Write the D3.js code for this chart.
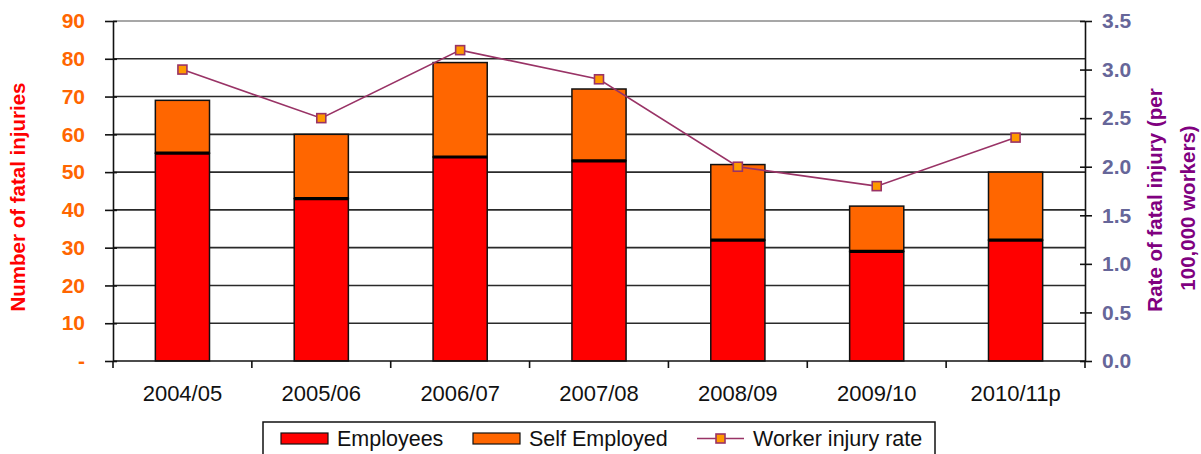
<!DOCTYPE html>
<html>
<head>
<meta charset="utf-8">
<script src="https://cdn.jsdelivr.net/npm/d3@7"></script>
<style>
  html, body { margin: 0; padding: 0; background: #fff; }
  svg { display: block; font-family: "Liberation Sans", Arial, sans-serif; }
</style>
</head>
<body>
<svg id="chart" width="1201" height="454"></svg>
<script>
// Fatal injuries by year, split by employment status, with the worker injury rate
const years = ["2004/05", "2005/06", "2006/07", "2007/08", "2008/09", "2009/10", "2010/11p"];
const employees = [55, 43, 54, 53, 32, 29, 32];
const selfEmployed = [14, 17, 25, 19, 20, 12, 18];
const injuryRate = [3.0, 2.5, 3.2, 2.9, 2.0, 1.8, 2.3];
const countTicks = [0, 10, 20, 30, 40, 50, 60, 70, 80, 90];
const rateTicks = [0, 0.5, 1.0, 1.5, 2.0, 2.5, 3.0, 3.5];

const svg = d3.select("#chart");
const plotLeft = 113, plotRight = 1085, plotTop = 21, plotBottom = 361;

const x = d3.scaleBand().domain(years).range([plotLeft, plotRight]).padding(0);
const barW = x.bandwidth() * 0.39;
const yCount = d3.scaleLinear().domain([0, 90]).range([plotBottom, plotTop]);
const yRate = d3.scaleLinear().domain([0, 3.5]).range([plotBottom, plotTop]);

// Horizontal gridlines
svg.append("g").selectAll("line").data(countTicks.filter(d => d > 0)).join("line")
  .attr("x1", plotLeft).attr("x2", plotRight)
  .attr("y1", d => yCount(d)).attr("y2", d => yCount(d))
  .attr("stroke", d => d === 90 ? "#8a8a8a" : "#2a2a2a")
  .attr("stroke-width", 1.6);

// Stacked bars
const bars = svg.append("g");
years.forEach((yr, i) => {
  const cx = x(yr) + x.bandwidth() / 2;
  const x0 = cx - barW / 2;
  bars.append("rect")
    .attr("x", x0).attr("width", barW)
    .attr("y", yCount(employees[i])).attr("height", yCount(0) - yCount(employees[i]))
    .attr("fill", "#FF0000").attr("stroke", "#111").attr("stroke-width", 1.5);
  const tot = employees[i] + selfEmployed[i];
  bars.append("rect")
    .attr("x", x0).attr("width", barW)
    .attr("y", yCount(tot)).attr("height", yCount(employees[i]) - yCount(tot))
    .attr("fill", "#FF6600").attr("stroke", "#111").attr("stroke-width", 1.5);
  bars.append("line")
    .attr("x1", x0).attr("x2", x0 + barW)
    .attr("y1", yCount(employees[i])).attr("y2", yCount(employees[i]))
    .attr("stroke", "#000").attr("stroke-width", 3.2);
});

// Left axis
const yAxisL = d3.axisLeft(yCount).tickValues(countTicks)
  .tickSizeOuter(0).tickSizeInner(8).tickPadding(12)
  .tickFormat(d => d === 0 ? "-" : d);
const gL = svg.append("g").attr("transform", `translate(${plotLeft},0)`).call(yAxisL);
gL.select(".domain").attr("stroke", "#111").attr("stroke-width", 1.6);
gL.selectAll(".tick line").attr("x2", -8).attr("x1", 4).attr("stroke", "#111").attr("stroke-width", 1.6);
gL.selectAll(".tick text").attr("fill", "#FF6600").attr("font-size", 21).attr("font-weight", "bold")
  .attr("font-family", "Liberation Sans, Arial, sans-serif").attr("x", -28);

// Right axis
const yAxisR = d3.axisRight(yRate).tickValues(rateTicks)
  .tickSizeOuter(0).tickSizeInner(7).tickPadding(10)
  .tickFormat(d3.format(".1f"));
const gR = svg.append("g").attr("transform", `translate(${plotRight},0)`).call(yAxisR);
gR.select(".domain").attr("stroke", "#111").attr("stroke-width", 1.6);
gR.selectAll(".tick line").attr("x1", -5).attr("x2", 7).attr("stroke", "#111").attr("stroke-width", 1.6);
gR.selectAll(".tick text").attr("fill", "#666699").attr("font-size", 21).attr("font-weight", "bold")
  .attr("font-family", "Liberation Sans, Arial, sans-serif").attr("x", 17);

// Bottom axis: ticks at category boundaries
const gB = svg.append("g");
gB.append("line").attr("x1", plotLeft).attr("x2", plotRight).attr("y1", plotBottom).attr("y2", plotBottom)
  .attr("stroke", "#111").attr("stroke-width", 1.6);
const bounds = years.map(d => x(d)).concat([x(years[years.length - 1]) + x.bandwidth()]);
gB.selectAll("line.tk").data(bounds).join("line").attr("class", "tk")
  .attr("x1", d => d).attr("x2", d => d).attr("y1", plotBottom).attr("y2", plotBottom + 7)
  .attr("stroke", "#111").attr("stroke-width", 1.6);
gB.selectAll("text").data(years).join("text")
  .attr("x", d => x(d) + x.bandwidth() / 2).attr("y", 401)
  .attr("text-anchor", "middle").attr("font-size", 22).attr("fill", "#111")
  .text(d => d);

// Injury rate line and markers
const line = d3.line().x((d, i) => x(years[i]) + x.bandwidth() / 2).y(d => yRate(d));
svg.append("path").datum(injuryRate).attr("d", line)
  .attr("fill", "none").attr("stroke", "#993366").attr("stroke-width", 1.6);
svg.append("g").selectAll("rect").data(injuryRate).join("rect")
  .attr("x", (d, i) => x(years[i]) + x.bandwidth() / 2 - 4.5)
  .attr("y", d => yRate(d) - 4.5)
  .attr("width", 9).attr("height", 9)
  .attr("fill", "#FF9900").attr("stroke", "#993366").attr("stroke-width", 1.6);

// Axis titles
svg.append("text").attr("transform", "translate(25,197) rotate(-90)")
  .attr("text-anchor", "middle").attr("font-size", 20.5).attr("font-weight", "bold")
  .attr("fill", "#FF0000").text("Number of fatal injuries");
svg.append("text").attr("transform", "translate(1162,200) rotate(-90)")
  .attr("text-anchor", "middle").attr("font-size", 20.5).attr("font-weight", "bold")
  .attr("fill", "#800080").text("Rate of fatal injury (per");
svg.append("text").attr("transform", "translate(1195,208) rotate(-90)")
  .attr("text-anchor", "middle").attr("font-size", 20.5).attr("font-weight", "bold")
  .attr("fill", "#800080").text("100,000 workers)");

// Legend
const lg = svg.append("g");
lg.append("rect").attr("x", 263).attr("y", 422).attr("width", 672).attr("height", 40)
  .attr("fill", "#fff").attr("stroke", "#111").attr("stroke-width", 1.5);
const legendItems = [
  { label: "Employees", type: "box", color: "#FF0000", x: 281 },
  { label: "Self Employed", type: "box", color: "#FF6600", x: 473 },
  { label: "Worker injury rate", type: "line", color: "#993366", x: 697 }
];
legendItems.forEach(it => {
  if (it.type === "box") {
    lg.append("rect").attr("x", it.x).attr("y", 433).attr("width", 47).attr("height", 11)
      .attr("fill", it.color).attr("stroke", "#111").attr("stroke-width", 1.2);
  } else {
    lg.append("line").attr("x1", it.x).attr("x2", it.x + 47).attr("y1", 438.5).attr("y2", 438.5)
      .attr("stroke", it.color).attr("stroke-width", 1.6);
    lg.append("rect").attr("x", it.x + 19).attr("y", 434).attr("width", 9).attr("height", 9)
      .attr("fill", "#FF9900").attr("stroke", "#993366").attr("stroke-width", 1.6);
  }
  lg.append("text").attr("x", it.x + 56).attr("y", 446).attr("font-size", 21.5)
    .attr("fill", "#111").text(it.label);
});
</script>
</body>
</html>
